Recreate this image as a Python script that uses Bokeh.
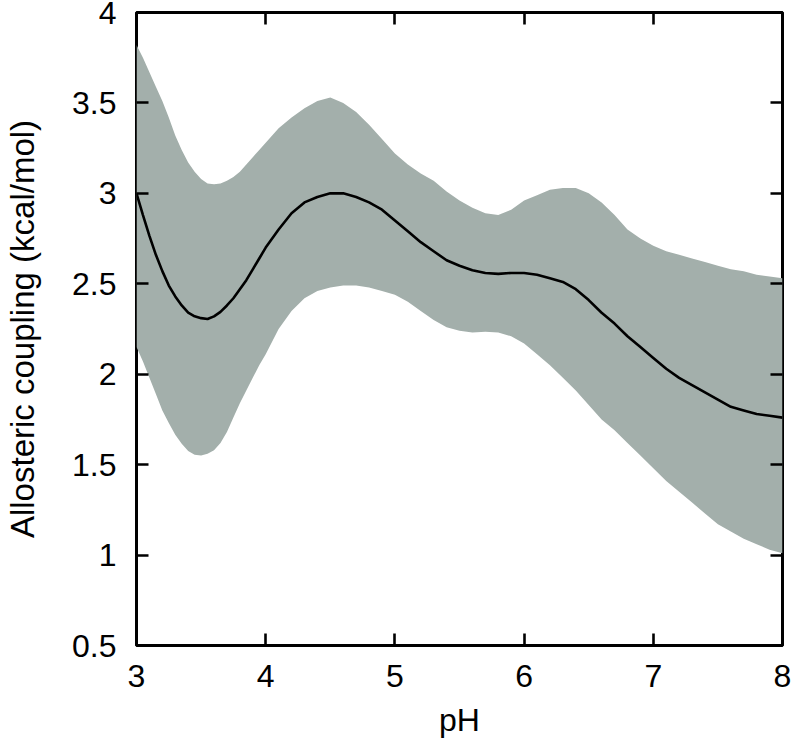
from bokeh.plotting import figure
from bokeh.models import Range1d, LinearAxis, FixedTicker
from bokeh.embed import file_html
from bokeh.resources import INLINE

# pH grid (finer where the curves bend sharply)
ph = [3.00, 3.05, 3.10, 3.15, 3.20, 3.25, 3.30, 3.35, 3.40, 3.45,
      3.50, 3.55, 3.60, 3.65, 3.70, 3.75, 3.80, 3.85, 3.90, 3.95,
      4.0, 4.1, 4.2, 4.3, 4.4, 4.5, 4.6, 4.7, 4.8, 4.9,
      5.0, 5.1, 5.2, 5.3, 5.4, 5.5, 5.6, 5.7, 5.8, 5.9,
      6.0, 6.1, 6.2, 6.3, 6.4, 6.5, 6.6, 6.7, 6.8, 6.9,
      7.0, 7.1, 7.2, 7.3, 7.4, 7.5, 7.6, 7.7, 7.8, 7.9, 8.0]

# mean allosteric coupling (kcal/mol)
coupling_mean = [3.00, 2.88, 2.765, 2.66, 2.57, 2.49, 2.43, 2.38, 2.34, 2.32,
                 2.31, 2.305, 2.32, 2.345, 2.38, 2.42, 2.47, 2.52, 2.58, 2.64,
                 2.70, 2.80, 2.89, 2.95, 2.98, 3.00, 3.00, 2.98, 2.95, 2.91,
                 2.85, 2.79, 2.73, 2.68, 2.63, 2.60, 2.575, 2.56, 2.555, 2.56,
                 2.56, 2.55, 2.53, 2.51, 2.47, 2.41, 2.34, 2.28, 2.21, 2.15,
                 2.09, 2.03, 1.98, 1.94, 1.90, 1.86, 1.82, 1.80, 1.78, 1.77, 1.76]

# upper and lower edges of the uncertainty band
coupling_upper = [3.82, 3.75, 3.67, 3.59, 3.51, 3.42, 3.32, 3.24, 3.17, 3.12,
                  3.08, 3.055, 3.05, 3.055, 3.07, 3.09, 3.12, 3.16, 3.20, 3.24,
                  3.28, 3.36, 3.42, 3.47, 3.51, 3.53, 3.50, 3.45, 3.38, 3.30,
                  3.22, 3.16, 3.11, 3.07, 3.01, 2.96, 2.92, 2.89, 2.88, 2.91,
                  2.96, 2.99, 3.02, 3.03, 3.03, 3.00, 2.95, 2.88, 2.80, 2.75,
                  2.71, 2.68, 2.66, 2.64, 2.62, 2.60, 2.58, 2.57, 2.55, 2.54, 2.53]

coupling_lower = [2.15, 2.07, 1.98, 1.89, 1.80, 1.73, 1.665, 1.615, 1.575, 1.555,
                  1.55, 1.56, 1.58, 1.62, 1.68, 1.76, 1.84, 1.91, 1.98, 2.05,
                  2.11, 2.25, 2.35, 2.42, 2.46, 2.48, 2.49, 2.49, 2.48, 2.46,
                  2.44, 2.40, 2.35, 2.30, 2.26, 2.24, 2.23, 2.235, 2.23, 2.21,
                  2.17, 2.11, 2.05, 1.98, 1.91, 1.83, 1.75, 1.69, 1.62, 1.55,
                  1.48, 1.41, 1.35, 1.29, 1.23, 1.17, 1.13, 1.09, 1.06, 1.03, 1.01]

x_ticks = [3, 4, 5, 6, 7, 8]
y_ticks = [0.5, 1, 1.5, 2, 2.5, 3, 3.5, 4]

FONT = "Liberation Sans"
TICK_FS = "32px"

p = figure(width=795, height=750, output_backend="svg", toolbar_location=None,
           x_range=Range1d(3, 8), y_range=Range1d(0.5, 4),
           x_axis_label="pH", y_axis_label="Allosteric coupling (kcal/mol)",
           min_border_left=136, min_border_right=13,
           min_border_top=12, min_border_bottom=105)

p.background_fill_color = "white"
p.border_fill_color = "white"
p.grid.visible = False
p.outline_line_color = "black"
p.outline_line_width = 3

p.varea(x=ph, y1=coupling_lower, y2=coupling_upper, fill_color="#a3afab")
p.line(x=ph, y=coupling_mean, line_color="black", line_width=2.6)

# mirrored tick axes on the right and top (ticks only, no labels)
right_axis = LinearAxis(ticker=FixedTicker(ticks=y_ticks),
                        major_label_overrides={t: "" for t in y_ticks})
top_axis = LinearAxis(ticker=FixedTicker(ticks=x_ticks),
                      major_label_overrides={t: "" for t in x_ticks})
p.add_layout(right_axis, "right")
p.add_layout(top_axis, "above")

p.below[0].ticker = FixedTicker(ticks=x_ticks)
p.left[0].ticker = FixedTicker(ticks=y_ticks)

for ax in p.axis:
    ax.axis_line_color = None
    ax.major_tick_in = 12
    ax.major_tick_out = 0
    ax.major_tick_line_color = "black"
    ax.major_tick_line_width = 2.6
    ax.minor_tick_line_color = None
    ax.major_label_text_font = FONT
    ax.major_label_text_font_size = TICK_FS
    ax.major_label_text_color = "black"
    ax.axis_label_text_font = FONT
    ax.axis_label_text_font_style = "normal"
    ax.axis_label_text_color = "black"

right_axis.major_label_standoff = 0
top_axis.major_label_standoff = 0

p.below[0].major_label_standoff = 19
p.below[0].axis_label_standoff = 12
p.below[0].axis_label_text_font_size = "32px"
p.left[0].major_label_standoff = 20
p.left[0].axis_label_standoff = 28
p.left[0].axis_label_text_font_size = "33px"

open("out.html", "w").write(file_html(p, INLINE))
